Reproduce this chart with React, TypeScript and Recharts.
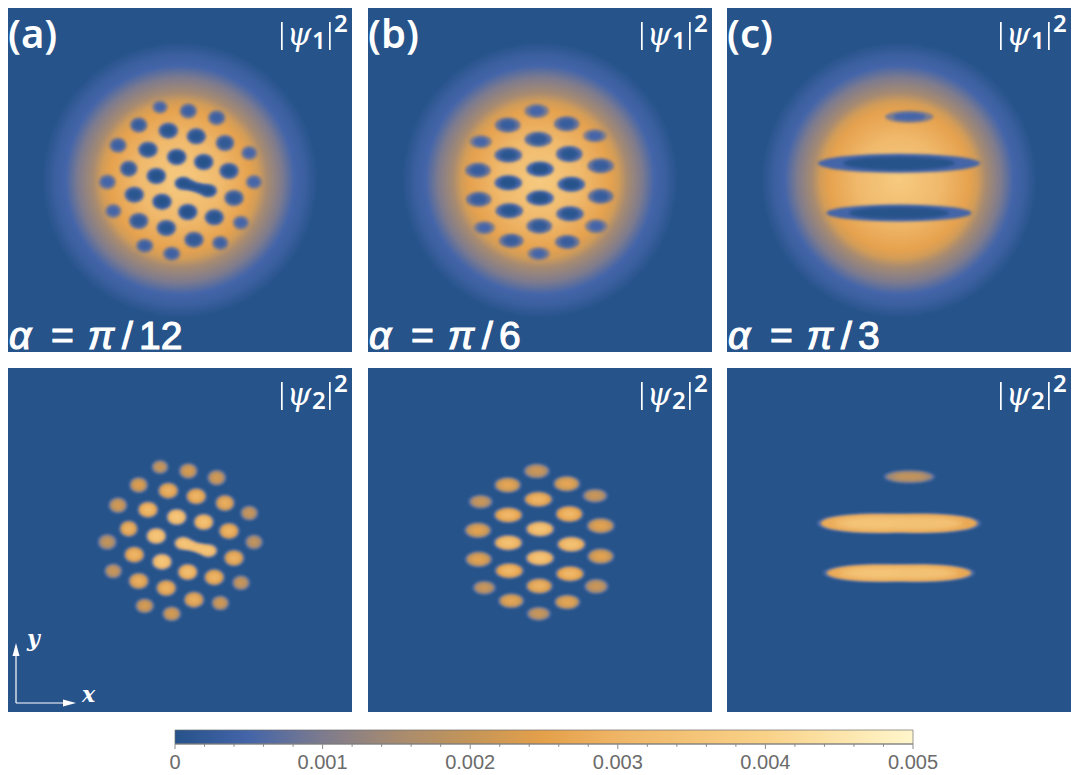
import React from "react";
import { ScatterChart, Scatter, XAxis, YAxis, ComposedChart, Line, ReferenceArea, ReferenceLine } from "recharts";

type Spot = { x: number; y: number; w: number; h: number; peak: number; dip: number };
const spot = (x: number, y: number, w: number, h: number, peak: number, dip: number): Spot => ({ x, y, w, h, peak, dip });

// Density map features, in plot units (x, y, width, height, density maximum in psi2, density minimum in psi1)
const spotsA: Spot[] = [
  spot(-20, 73, 13, 11, 0.0019, 0.0005), spot(8.3, 69, 15, 13, 0.0021, 0.0004), spot(36.7, 62.3, 15, 13, 0.002, 0.0004),
  spot(-41.3, 55, 15, 13, 0.0022, 0.0003), spot(-11.7, 49.3, 17, 14, 0.0027, 0.0001), spot(16.3, 43.7, 17, 14, 0.0028, 0.0001),
  spot(45, 37, 16, 14, 0.0026, 0.0002), spot(-62, 34.7, 15, 13, 0.002, 0.0004), spot(-32, 30.3, 17, 14, 0.003, 0.0001),
  spot(-3.3, 23, 17, 14, 0.0034, 0), spot(23.7, 18, 17, 14, 0.0032, 0), spot(69.3, 27, 14, 12, 0.0019, 0.0005),
  spot(-51.3, 11.3, 15, 14, 0.0027, 0.0002), spot(-23.7, 4, 17, 14, 0.0034, 0), spot(49, 9, 17, 14, 0.0028, 0.0001),
  spot(-72.7, -2, 15, 13, 0.0018, 0.0005), spot(74, -2, 14, 12, 0.0018, 0.0005), spot(-45.7, -14.7, 17, 14, 0.0028, 0.0001),
  spot(-18, -21.7, 17, 14, 0.0034, 0), spot(54, -18, 17, 14, 0.0027, 0.0002), spot(-66.7, -31, 14, 12, 0.0019, 0.0005),
  spot(7.7, -32, 17, 14, 0.0031, 0), spot(34.3, -37.3, 17, 14, 0.0028, 0.0001), spot(-41.3, -41, 17, 14, 0.0026, 0.0002),
  spot(-13.7, -48, 17, 14, 0.0027, 0.0001), spot(61, -42.7, 14, 12, 0.0019, 0.0005), spot(14, -59.7, 17, 14, 0.0026, 0.0002),
  spot(40.3, -63, 14, 12, 0.002, 0.0004), spot(-35.3, -65.7, 15, 12, 0.0021, 0.0004), spot(-8.3, -73.7, 15, 12, 0.0021, 0.0004),
  spot(3.3, -3.3, 15, 11, 0.0034, 0), spot(9.6, -5.3, 13, 8, 0.0034, 0), spot(16, -7.3, 13, 7, 0.0034, 0),
  spot(22, -9, 13, 8, 0.0034, 0), spot(28.3, -10.7, 15, 11, 0.0034, 0),
];
const spotsB: Spot[] = [
  spot(-3.3, 69, 22, 12, 0.0019, 0.0005), spot(-32.3, 55, 23, 13, 0.0024, 0.0003), spot(26.7, 56.3, 23, 13, 0.0024, 0.0003),
  spot(55, 44.3, 21, 11, 0.0019, 0.0005), spot(-59.3, 38.3, 20, 11, 0.0019, 0.0005), spot(-1.7, 40.7, 25, 13, 0.0028, 0.0002),
  spot(-31.7, 25, 25, 13, 0.0029, 0.0001), spot(29.3, 26, 24, 14, 0.0029, 0.0001), spot(-62, 9.7, 23, 13, 0.0023, 0.0003),
  spot(0, 11, 25, 13, 0.0033, 0), spot(60.7, 14.3, 24, 13, 0.0023, 0.0003), spot(-31.7, -2.7, 25, 13, 0.0032, 0),
  spot(31.3, -4.3, 25, 13, 0.0032, 0), spot(-61.3, -19.3, 23, 13, 0.0023, 0.0003), spot(0, -18, 25, 13, 0.0033, 0),
  spot(60.7, -16.3, 23, 13, 0.0023, 0.0003), spot(-30.7, -30.7, 25, 13, 0.0029, 0.0001), spot(30, -33.7, 25, 13, 0.0029, 0.0001),
  spot(-55.7, -47.7, 19, 11, 0.0019, 0.0005), spot(-0.7, -46, 23, 13, 0.0027, 0.0002), spot(56.3, -46.3, 20, 12, 0.0019, 0.0005),
  spot(-28.7, -60.7, 22, 12, 0.0024, 0.0003), spot(27.3, -62, 22, 12, 0.0024, 0.0003), spot(-1.3, -73.7, 20, 11, 0.0019, 0.0005),
];
const spotsC: Spot[] = [
  spot(10.3, 63.3, 46, 10, 0.0018, 0.0005), spot(0, 16.7, 160, 17, 0.0031, 0), spot(0, -33, 143, 15, 0.0031, 0),
];
const bandsC: Spot[] = [
  spot(10.3, 63.3, 46, 10, 0.0018, 0.0005),
  spot(-28, 16.7, 100, 17, 0.0031, 0), spot(0, 16.7, 150, 17, 0.0032, 0), spot(28, 16.7, 100, 17, 0.0031, 0),
  spot(-26, -33, 92, 15, 0.0031, 0), spot(0, -33, 135, 15, 0.0032, 0), spot(26, -33, 92, 15, 0.0031, 0),
];

const colorPositions = [0, 0.0005, 0.001, 0.0015, 0.002, 0.0025, 0.003, 0.004, 0.005];
const colorValues = ["#26528a", "#4465a9", "#7d7b8e", "#a78b70", "#c49558", "#e5a04a", "#efb566", "#f9d288", "#fff6cc"];

const cloudProfile = [0, 0.3, 0.51, 0.57, 0.63, 0.74, 0.83, 0.91, 1];
const cloudColors = ["#f6ca80", "#f0b96c", "#e6a24e", "#d29c58", "#a88b70", "#7d7b8e", "#4465a9", "#3a5f9e", "#26538a"];
const cloud = [{ x: 0, y: 0, r: 138 }];

const colorbarTicks = [0, 0.001, 0.002, 0.003, 0.004, 0.005];
const colorbarMinor = [0.0002, 0.0004, 0.0006, 0.0008, 0.0012, 0.0014, 0.0016, 0.0018, 0.0022, 0.0024, 0.0026, 0.0028, 0.0032, 0.0034, 0.0036, 0.0038, 0.0042, 0.0044, 0.0046, 0.0048];
const colorbarData = [{ x: 0, y: 0 }, { x: 0.005, y: 1 }];

const PANEL = 344;
const BG = "#26538a";

function hex(c: string) { return [1, 3, 5].map((i) => parseInt(c.slice(i, i + 2), 16)); }
function colorAt(v: number) {
  const t = Math.max(0, Math.min(0.005, v));
  let i = 0;
  while (i < colorPositions.length - 2 && t > colorPositions[i + 1]) i++;
  const f = (t - colorPositions[i]) / (colorPositions[i + 1] - colorPositions[i]);
  const a = hex(colorValues[i]), b = hex(colorValues[i + 1]);
  return `rgb(${a.map((q, k) => Math.round(q + (b[k] - q) * f)).join(",")})`;
}

const CloudShape = (p: any) => <circle cx={p.cx} cy={p.cy} r={p.payload.r} fill="url(#cloud)" />;
const DipOuter = (p: any) => {
  const { w, h, dip } = p.payload;
  return <ellipse cx={p.cx} cy={p.cy} rx={w / 2 + 1.2} ry={h / 2 + 1} fill={colorAt(dip + 0.0005)} filter="url(#soft)" />;
};
const DipInner = (p: any) => {
  const { w, h, dip } = p.payload;
  const sx = w / h > 1.5 ? 0.7 : 0.82;
  return <ellipse cx={p.cx} cy={p.cy} rx={(w / 2) * sx} ry={(h / 2) * 0.78} fill={colorAt(dip)} filter="url(#soft)" />;
};
const PeakHalo = (p: any) => {
  const { w, h } = p.payload;
  return <ellipse cx={p.cx} cy={p.cy} rx={(w / 2) * 1.04 + 2} ry={h / 2 + 1.5} fill="#4a69a8" filter="url(#soft)" />;
};
const PeakBody = (p: any) => {
  const { w, h, peak } = p.payload;
  return <ellipse cx={p.cx} cy={p.cy} rx={w / 2 + 0.5} ry={h / 2 + 0.3} fill={colorAt(peak - 0.0004)} filter="url(#soft)" />;
};
const PeakCore = (p: any) => {
  const { w, h, peak } = p.payload;
  return <ellipse cx={p.cx} cy={p.cy} rx={(w / 2) * 0.72} ry={(h / 2) * 0.62} fill={colorAt(peak + 0.0003)} filter="url(#softer)" />;
};

function Panel({ left, top, spots, upper }: { left: number; top: number; spots: Spot[]; upper: boolean }) {
  const layers = upper ? [DipOuter, DipInner] : [PeakHalo, PeakBody, PeakCore];
  return (
    <div style={{ position: "absolute", left, top, width: PANEL, height: PANEL }}>
      <ScatterChart width={PANEL} height={PANEL} margin={{ top: 0, right: 0, bottom: 0, left: 0 }}>
        <defs>
          <radialGradient id="cloud">
            {cloudProfile.map((o, i) => <stop key={i} offset={o} stopColor={cloudColors[i]} />)}
          </radialGradient>
          <filter id="soft" x="-40%" y="-60%" width="180%" height="220%"><feGaussianBlur stdDeviation="1.4" /></filter>
          <filter id="softer" x="-60%" y="-80%" width="220%" height="260%"><feGaussianBlur stdDeviation="2.4" /></filter>
        </defs>
        <XAxis type="number" dataKey="x" domain={[-172, 172]} hide />
        <YAxis type="number" dataKey="y" domain={[-172, 172]} hide />
        <ReferenceArea x1={-172} x2={172} y1={-172} y2={172} fill={BG} fillOpacity={1} stroke="none" />
        {upper && <Scatter data={cloud} shape={CloudShape} isAnimationActive={false} />}
        {layers.map((s, i) => <Scatter key={i} data={spots} shape={s} isAnimationActive={false} />)}
      </ScatterChart>
    </div>
  );
}

function Psi({ x, y, n }: { x: number; y: number; n: string }) {
  return (
    <g fill="#fff" fontFamily="'Noto Sans', sans-serif">
      <rect x={x + 273} y={y + 14} width={1.7} height={28} />
      <text x={x + 279} y={y + 37} fontSize={31} fontStyle="italic" fontFamily="'DejaVu Serif', serif">ψ</text>
      <text x={x + 304} y={y + 41} fontSize={24} fontWeight={600}>{n}</text>
      <rect x={x + 321} y={y + 14} width={1.7} height={28} />
      <text x={x + 326} y={y + 24} fontSize={24} fontWeight={600}>2</text>
    </g>
  );
}

const letters = [
  { x: 8, t: "(a)" }, { x: 368, t: "(b)" }, { x: 727, t: "(c)" },
];
const angles = [
  { x: 10, t: "12" }, { x: 370, t: "6" }, { x: 729, t: "3" },
];

export default function App() {
  const cols = [8, 368, 727];
  const sans = "'Liberation Sans', sans-serif";
  return (
    <div style={{ position: "absolute", left: 0, top: 0, width: 1080, height: 775, background: "#fff" }}>
      <Panel left={cols[0]} top={8} spots={spotsA} upper />
      <Panel left={cols[1]} top={8} spots={spotsB} upper />
      <Panel left={cols[2]} top={8} spots={spotsC} upper />
      <Panel left={cols[0]} top={368} spots={spotsA} upper={false} />
      <Panel left={cols[1]} top={368} spots={spotsB} upper={false} />
      <Panel left={cols[2]} top={368} spots={bandsC} upper={false} />

      <div style={{ position: "absolute", left: 150, top: 725 }}>
        <ComposedChart width={800} height={50} data={colorbarData} margin={{ top: 5, right: 37, bottom: 0, left: 25 }}>
          <defs>
            <linearGradient id="cbar" x1="0" y1="0" x2="1" y2="0">
              {colorPositions.map((p, i) => <stop key={i} offset={p / 0.005} stopColor={colorValues[i]} />)}
            </linearGradient>
          </defs>
          <XAxis
            type="number" dataKey="x" domain={[0, 0.005]} ticks={colorbarTicks} height={31} interval={0}
            tickLine={{ stroke: "#8a8a8a" }} tickSize={5} axisLine={{ stroke: "#808080" }} tickMargin={6}
            tickFormatter={(v: number) => String(v)}
            tick={{ fontFamily: sans, fontSize: 20, fill: "#6b6b6b" }}
          />
          <YAxis type="number" dataKey="y" domain={[0, 1]} hide />
          <ReferenceArea x1={0} x2={0.005} y1={0} y2={1} fill="url(#cbar)" fillOpacity={1} stroke="#6f6f6f" strokeOpacity={0.7} strokeWidth={1} />
          <Line dataKey="y" stroke="none" dot={false} activeDot={false} isAnimationActive={false} />
          {colorbarMinor.map((v) => (
            <ReferenceLine key={v} ifOverflow="visible" segment={[{ x: v, y: 0 }, { x: v, y: -0.2 }]} stroke="#8a8a8a" />
          ))}
        </ComposedChart>
      </div>

      <svg width={1080} height={775} style={{ position: "absolute", left: 0, top: 0, pointerEvents: "none" }}>
        {letters.map((l) => (
          <text key={l.t} x={l.x} y={48} fill="#fff" fontSize={40} fontWeight={600} fontFamily="'Noto Sans', sans-serif">{l.t}</text>
        ))}
        {cols.map((c) => (
          <g key={c}>
            <Psi x={c} y={8} n="1" />
            <Psi x={c} y={368} n="2" />
          </g>
        ))}
        {angles.map((a) => (
          <text key={a.t} y={349} fill="#fff" stroke="#fff" strokeWidth={1.1} fontSize={39} fontFamily={sans}>
            <tspan x={a.x - 1} fontStyle="italic">α</tspan>
            <tspan x={a.x + 41}>=</tspan>
            <tspan x={a.x + 78} fontStyle="italic">π</tspan>
            <tspan x={a.x + 112}>/</tspan>
            <tspan x={a.x + 129}>{a.t}</tspan>
          </text>
        ))}
        <g stroke="#fff" strokeWidth={1.2} fill="#fff">
          <line x1={16} y1={703} x2={16} y2={650} />
          <line x1={16} y1={703} x2={68} y2={703} />
          <path d="M16 643 L19.5 656 L12.5 656 Z" stroke="none" />
          <path d="M76 703 L63 699.5 L63 706.5 Z" stroke="none" />
        </g>
        <text x={27} y={646} fill="#fff" fontSize={22} fontStyle="italic" fontWeight={700} fontFamily="'DejaVu Serif', serif">y</text>
        <text x={82} y={702} fill="#fff" fontSize={22} fontStyle="italic" fontWeight={700} fontFamily="'DejaVu Serif', serif">x</text>
      </svg>
    </div>
  );
}
